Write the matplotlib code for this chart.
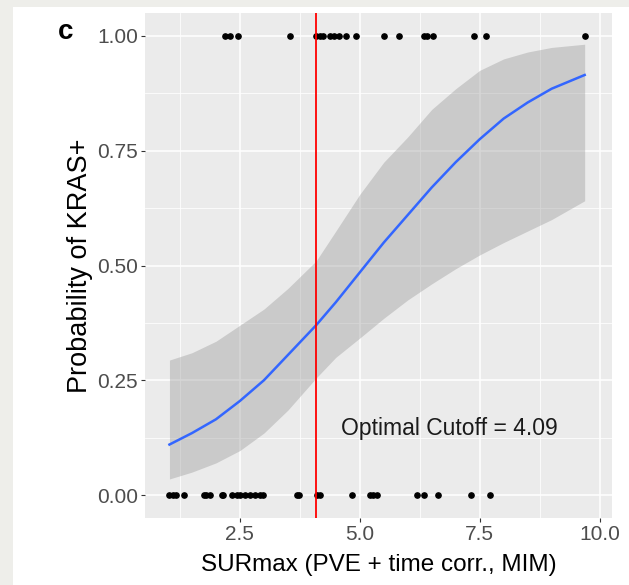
import matplotlib.pyplot as plt
from matplotlib.patches import Rectangle
from matplotlib.ticker import MultipleLocator

# observed points (SURmax) by outcome
x_pos = [2.19, 2.30, 2.45, 3.54, 4.09, 4.17, 4.23, 4.38, 4.46, 4.56, 4.71,
         4.92, 5.51, 5.82, 6.33, 6.40, 6.53, 7.39, 7.63, 9.69]
x_neg = [1.02, 1.11, 1.16, 1.34, 1.75, 1.80, 1.87, 2.12, 2.15, 2.33, 2.43,
         2.50, 2.60, 2.71, 2.81, 2.92, 2.99, 3.68, 3.74, 4.10, 4.17, 4.84,
         5.21, 5.28, 5.35, 6.19, 6.34, 6.64, 7.32, 7.72]

# fitted curve and confidence band
fit_x = [1.03, 1.5, 2.0, 2.5, 3.0, 3.5, 4.09, 4.5, 5.0, 5.5, 6.0, 6.5,
         7.0, 7.5, 8.0, 8.5, 9.0, 9.69]
fit_y = [0.11, 0.135, 0.165, 0.205, 0.25, 0.305, 0.37, 0.42, 0.485, 0.55,
         0.61, 0.67, 0.725, 0.775, 0.82, 0.855, 0.885, 0.915]
fit_hi = [0.294, 0.31, 0.335, 0.37, 0.405, 0.45, 0.51, 0.575, 0.655, 0.725,
          0.78, 0.84, 0.885, 0.925, 0.95, 0.965, 0.975, 0.982]
fit_lo = [0.035, 0.05, 0.07, 0.097, 0.135, 0.185, 0.255, 0.30, 0.342, 0.385,
          0.425, 0.46, 0.493, 0.523, 0.55, 0.575, 0.60, 0.641]

cutoff = 4.09
yticks = [0.0, 0.25, 0.5, 0.75, 1.0]
ytick_labels = ['0.00', '0.25', '0.50', '0.75', '1.00']
xticks = [2.5, 5.0, 7.5, 10.0]
xtick_labels = ['2.5', '5.0', '7.5', '10.0']

plt.rcParams['font.family'] = ['Liberation Sans', 'DejaVu Sans']

fig = plt.figure(figsize=(6.29, 5.85), dpi=100, facecolor='#eeeeea')
# white card over the grey screenshot border
fig.patches.append(Rectangle((13 / 629, 0), 1, 1 - 7 / 585,
                             transform=fig.transFigure, facecolor='white',
                             edgecolor='none', zorder=-10))

ax = fig.add_axes([145 / 629, 1 - 518 / 585, (612 - 145) / 629, (518 - 13) / 585])
ax.set_facecolor('#ebebeb')
for s in ax.spines.values():
    s.set_visible(False)

ax.set_xlim(0.52, 10.26)
ax.set_ylim(-0.05, 1.05)
ax.set_xticks(xticks)
ax.set_xticklabels(xtick_labels)
ax.set_yticks(yticks)
ax.set_yticklabels(ytick_labels)
ax.xaxis.set_minor_locator(MultipleLocator(1.25))
ax.yaxis.set_minor_locator(MultipleLocator(0.125))
ax.grid(which='major', color='white', lw=1.1)
ax.grid(which='minor', color='white', lw=0.55)
ax.set_axisbelow(True)
ax.tick_params(which='major', length=3, width=0.8, color='#333333',
               labelsize=15, labelcolor='#4d4d4d', pad=2)
ax.tick_params(which='minor', length=0)

ax.fill_between(fit_x, fit_lo, fit_hi, color='#999999', alpha=0.4, lw=0, zorder=2)
ax.plot(fit_x, fit_y, color='#3366ff', lw=1.8, zorder=3)
ax.plot(x_pos, [1] * len(x_pos), 'o', color='black', ms=3.8, zorder=4)
ax.plot(x_neg, [0] * len(x_neg), 'o', color='black', ms=3.8, zorder=4)
ax.axvline(cutoff, color='red', lw=1.3, zorder=5)

ax.text(6.87, 0.146, f'Optimal Cutoff = {cutoff:.2f}', ha='center', va='center',
        fontsize=16.5, color='#1a1a1a')

ax.set_xlabel('SURmax (PVE + time corr., MIM)', fontsize=17.5, labelpad=7)
ax.set_ylabel('Probability of KRAS+', fontsize=19.5, labelpad=3)
fig.text(66 / 629, 1 - 32 / 585, 'c', fontsize=20, fontweight='bold',
         ha='center', va='center')

fig.savefig('out.png', dpi=100, facecolor=fig.get_facecolor())
